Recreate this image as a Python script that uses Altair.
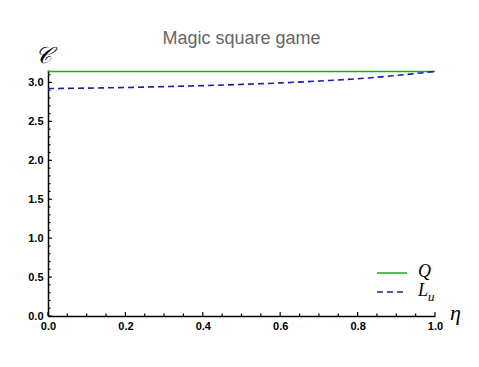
import altair as alt
import pandas as pd

eta = [0.0, 0.1, 0.2, 0.3, 0.4, 0.5, 0.6, 0.7, 0.8, 0.9, 1.0]
q_vals = [3.1416] * 11
lu_vals = [2.922, 2.927, 2.935, 2.946, 2.959, 2.975, 2.994, 3.018, 3.048, 3.090, 3.1416]
series = ["Q", "Lu"]
colors = ["#1faa1f", "#1c1ca8"]
dashes = [[1, 0], [6, 4]]

x_major = [0.0, 0.2, 0.4, 0.6, 0.8, 1.0]
x_minor = [round(i * 0.05, 2) for i in range(21) if i % 4 != 0]
y_major = [0.0, 0.5, 1.0, 1.5, 2.0, 2.5, 3.0]
y_minor = [round(i * 0.1, 1) for i in range(32) if i % 5 != 0]

rows = []
for e, q, l in zip(eta, q_vals, lu_vals):
    rows.append({"eta": e, "C": q, "s": series[0]})
    rows.append({"eta": e, "C": l, "s": series[1]})
df = pd.DataFrame(rows)

W, H = 387, 246
xs = alt.Scale(domain=[0, 1])
ys = alt.Scale(domain=[0, 3.16])

lines = alt.Chart(df).mark_line(strokeWidth=1.6, interpolate="monotone").encode(
    x=alt.X("eta:Q", scale=xs, axis=alt.Axis(
        values=x_major, format=".1f", ticks=False, grid=False, labelFlush=False,
        labelFont="Liberation Sans", labelFontWeight="bold", labelFontSize=11,
        labelColor="black", labelPadding=4, domainColor="black", domainWidth=1.5,
        title="η", titleFont="Liberation Serif", titleFontStyle="italic",
        titleFontWeight="normal", titleFontSize=22, titleColor="black",
        titleX=W + 20, titleY=-4, titleAlign="center", titleBaseline="middle")),
    y=alt.Y("C:Q", scale=ys, axis=alt.Axis(
        values=y_major, format=".1f", ticks=False, grid=False,
        labelFont="Liberation Sans", labelFontWeight="bold", labelFontSize=11,
        labelColor="black", labelPadding=5, domainColor="black", domainWidth=1.5,
        title="𝒞", titleFont="DejaVu Serif", titleFontStyle="italic",
        titleFontWeight="normal", titleFontSize=23, titleColor="black",
        titleAngle=0, titleX=-5, titleY=-15, titleAlign="center", titleBaseline="middle")),
    color=alt.Color("s:N", scale=alt.Scale(domain=series, range=colors), legend=None),
    strokeDash=alt.StrokeDash("s:N", scale=alt.Scale(domain=series, range=dashes), legend=None),
    order=alt.Order("eta:Q"),
)

xmaj = alt.Chart(pd.DataFrame({"v": x_major})).mark_rule(color="black", strokeWidth=1.2).encode(
    x=alt.X("v:Q", scale=xs), y=alt.value(H), y2=alt.value(H - 4))
xmin = alt.Chart(pd.DataFrame({"v": x_minor})).mark_rule(color="black", strokeWidth=1.2).encode(
    x=alt.X("v:Q", scale=xs), y=alt.value(H), y2=alt.value(H - 2.5))
ymaj = alt.Chart(pd.DataFrame({"v": y_major})).mark_rule(color="black", strokeWidth=1.2).encode(
    y=alt.Y("v:Q", scale=ys), x=alt.value(0), x2=alt.value(4))
ymin = alt.Chart(pd.DataFrame({"v": y_minor})).mark_rule(color="black", strokeWidth=1.2).encode(
    y=alt.Y("v:Q", scale=ys), x=alt.value(0), x2=alt.value(2.5))

# legend (drawn as decoration inside the plot area)
leg_y = [203, 222]
leg_rules = []
for i in range(2):
    leg_rules.append(
        alt.Chart(pd.DataFrame({"s": [series[i]]})).mark_rule(
            color=colors[i], strokeWidth=1.6, strokeDash=dashes[i]).encode(
            x=alt.value(329), x2=alt.value(359), y=alt.value(leg_y[i])))
leg_q = alt.Chart(pd.DataFrame({"t": ["Q"]})).mark_text(
    font="Liberation Serif", fontStyle="italic", fontSize=18, align="left",
    baseline="middle", color="black").encode(
    text="t:N", x=alt.value(370), y=alt.value(leg_y[0] - 1))
leg_l = alt.Chart(pd.DataFrame({"t": ["L"]})).mark_text(
    font="Liberation Serif", fontStyle="italic", fontSize=18, align="left",
    baseline="middle", color="black").encode(
    text="t:N", x=alt.value(370), y=alt.value(leg_y[1] - 1))
leg_u = alt.Chart(pd.DataFrame({"t": ["u"]})).mark_text(
    font="Liberation Serif", fontStyle="italic", fontSize=13, align="left",
    baseline="middle", color="black").encode(
    text="t:N", x=alt.value(380), y=alt.value(leg_y[1] + 5))

chart = alt.layer(lines, xmaj, xmin, ymaj, ymin, *leg_rules, leg_q, leg_l, leg_u).properties(
    width=W, height=H,
    title=alt.TitleParams("Magic square game", font="Liberation Sans", fontSize=18,
                          fontWeight="normal", color="#666666", anchor="middle",
                          frame="group", offset=-4),
    autosize=alt.AutoSizeParams(type="none"),
    padding={"left": 40, "top": 62, "right": 34, "bottom": 40},
).configure_view(stroke=None)

chart.save("out.html", embed_options={"renderer": "svg", "actions": False})
